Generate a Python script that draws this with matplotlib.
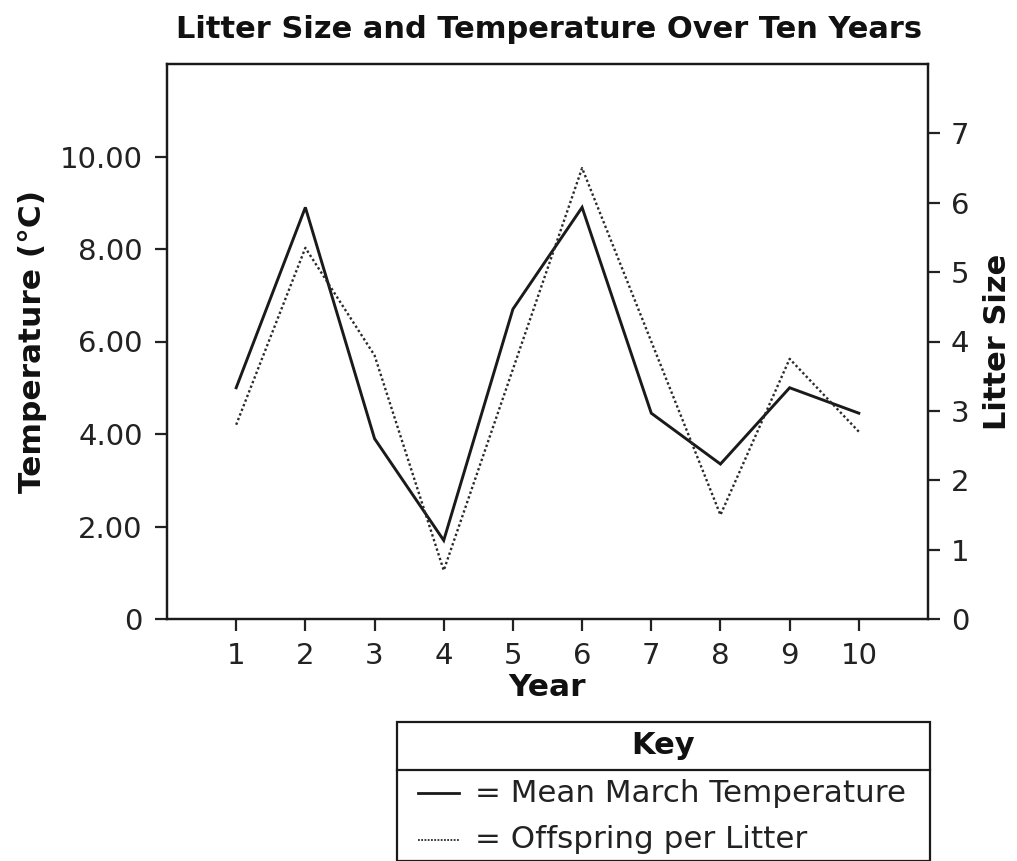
import matplotlib
matplotlib.use("Agg")
import matplotlib.pyplot as plt
from matplotlib.patches import Rectangle
from matplotlib.lines import Line2D

years = [1, 2, 3, 4, 5, 6, 7, 8, 9, 10]
temperature = [5.0, 8.9, 3.9, 1.7, 6.7, 8.9, 4.45, 3.35, 5.0, 4.45]
litter_size = [2.8, 5.35, 3.8, 0.7, 3.6, 6.5, 4.0, 1.5, 3.75, 2.7]
temp_ticks = [0, 2, 4, 6, 8, 10]
temp_tick_labels = ["0", "2.00", "4.00", "6.00", "8.00", "10.00"]
litter_ticks = [0, 1, 2, 3, 4, 5, 6, 7]

title = "Litter Size and Temperature Over Ten Years"
key_title = "Key"
key_labels = ["= Mean March Temperature", "= Offspring per Litter"]

W, H = 1017, 861
plt.rcParams['font.family'] = ['DejaVu Sans']
fig = plt.figure(figsize=(W / 100, H / 100), dpi=100)
fig.patch.set_facecolor("white")

def fx(px):
    return px / W

def fy(py):
    return 1 - py / H

L, R, T, B = 167, 928, 64, 619
ax = fig.add_axes([fx(L), fy(B), fx(R) - fx(L), fy(T) - fy(B)])
ax2 = ax.twinx()

ink = "#1a1a1a"
ax.plot(years, temperature, color=ink, lw=2.1, solid_joinstyle="miter")
ax2.plot(years, litter_size, color="#2a2a2a", lw=1.7, linestyle=(0, (1, 1.1)))

ax.set_xlim(0, 11)
ax.set_ylim(0, 12)
ax2.set_ylim(0, 8)
ax.set_xticks(years)
ax.set_xticklabels([str(y) for y in years])
ax.set_yticks(temp_ticks)
ax.set_yticklabels(temp_tick_labels)
ax2.set_yticks(litter_ticks)
ax2.set_yticklabels([str(v) for v in litter_ticks])

for a in (ax, ax2):
    for s in a.spines.values():
        s.set_linewidth(1.6)
        s.set_color(ink)
    a.tick_params(axis="both", direction="out", length=8.5, width=1.6,
                  labelsize=21, colors="#222222")
ax.tick_params(axis="y", pad=9)
ax.tick_params(axis="x", pad=8)
ax2.tick_params(axis="y", pad=8)

ax.set_xlabel("Year", fontsize=22.5, fontweight="bold", color="#111111", labelpad=2)
ax.set_ylabel("Temperature (°C)", fontsize=22.5, fontweight="bold", color="#111111", labelpad=9)
ax2.set_ylabel("Litter Size", fontsize=22, fontweight="bold", color="#111111", labelpad=10)

fig.text(fx(549), fy(29), title, fontsize=22, fontweight="bold", color="#111111",
         ha="center", va="center")

# Key box
bx0, bx1, by0, bdiv = 397, 930, 722, 770
fig.add_artist(Rectangle((fx(bx0), 0), fx(bx1) - fx(bx0), fy(by0), transform=fig.transFigure,
                         fill=False, edgecolor=ink, lw=1.6, clip_on=False))
fig.add_artist(Line2D([fx(bx0), fx(bx1)], [fy(bdiv), fy(bdiv)], transform=fig.transFigure,
                      color=ink, lw=1.6))
fig.text(fx((bx0 + bx1) / 2), fy(746), key_title, fontsize=22, fontweight="bold",
         color="#111111", ha="center", va="center")
row_y = [793, 840]
styles = [dict(color=ink, lw=2.0), dict(color="#2a2a2a", lw=1.3, linestyle=(0, (1, 0.8)))]
for yy, lab, st in zip(row_y, key_labels, styles):
    fig.add_artist(Line2D([fx(418), fx(459)], [fy(yy), fy(yy)], transform=fig.transFigure, **st))
    fig.text(fx(475), fy(yy), lab, fontsize=22.3, color="#222222", ha="left", va="center")

fig.savefig("out.png", dpi=100)
